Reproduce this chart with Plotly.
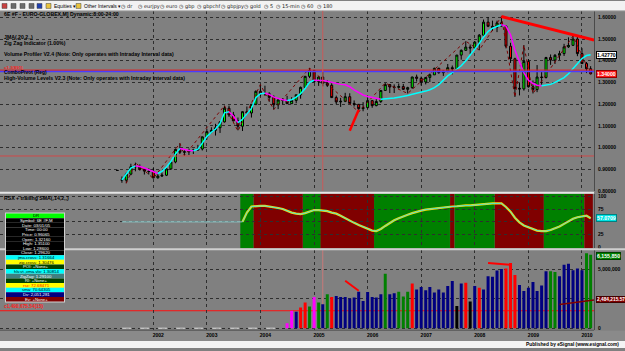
import plotly.graph_objects as go
import pandas as pd

W, H = 625, 351
def px(x): return x / W
def py(y): return 1 - y / H

FONT = "Liberation Sans"

# ---------------- data ----------------
months = [d.strftime("%Y-%m-%d") for d in pd.date_range("2001-05-01", "2010-03-01", freq="MS")]

open_ = [0.894, 0.851, 0.849, 0.877, 0.911, 0.912, 0.900, 0.891,
         0.889, 0.860, 0.868, 0.872, 0.901, 0.933, 0.991, 0.978, 0.980, 0.986, 0.988, 0.993,
         1.049, 1.073, 1.079, 1.091, 1.118, 1.181, 1.150, 1.123, 1.098, 1.165, 1.159, 1.199,
         1.259, 1.247, 1.248, 1.231, 1.197, 1.219, 1.218, 1.202, 1.217, 1.243, 1.277, 1.328,
         1.355, 1.304, 1.325, 1.296, 1.287, 1.230, 1.210, 1.213, 1.234, 1.203, 1.199, 1.179,
         1.184, 1.216, 1.193, 1.212, 1.263, 1.290, 1.279, 1.277, 1.281, 1.268, 1.276, 1.325,
         1.319, 1.302, 1.323, 1.335, 1.365, 1.345, 1.353, 1.368, 1.363, 1.426, 1.448, 1.463,
         1.459, 1.486, 1.518, 1.578, 1.559, 1.554, 1.575, 1.560, 1.467, 1.409, 1.273, 1.270,
         1.397, 1.280, 1.267, 1.325, 1.323, 1.415, 1.403, 1.425, 1.433, 1.464, 1.471, 1.500,
         1.433, 1.387, 1.363]
high = [0.894, 0.866, 0.884, 0.925, 0.930, 0.922, 0.903, 0.904,
        0.905, 0.877, 0.885, 0.904, 0.937, 0.995, 1.019, 0.988, 0.995, 0.994, 1.012, 1.050,
        1.087, 1.093, 1.109, 1.122, 1.193, 1.193, 1.164, 1.138, 1.167, 1.189, 1.200, 1.263,
        1.290, 1.285, 1.255, 1.240, 1.227, 1.228, 1.238, 1.232, 1.244, 1.281, 1.330, 1.366,
        1.358, 1.328, 1.349, 1.311, 1.296, 1.239, 1.229, 1.252, 1.250, 1.217, 1.200, 1.209,
        1.229, 1.218, 1.223, 1.264, 1.297, 1.292, 1.291, 1.295, 1.293, 1.280, 1.326, 1.336,
        1.327, 1.325, 1.341, 1.368, 1.368, 1.354, 1.385, 1.378, 1.427, 1.452, 1.490, 1.475,
        1.490, 1.523, 1.590, 1.602, 1.585, 1.585, 1.604, 1.564, 1.483, 1.414, 1.300, 1.472,
        1.408, 1.309, 1.380, 1.349, 1.418, 1.429, 1.431, 1.446, 1.478, 1.508, 1.514, 1.510,
        1.458, 1.394, 1.375]
low = [0.894, 0.837, 0.835, 0.872, 0.890, 0.893, 0.875, 0.875,
       0.857, 0.856, 0.864, 0.868, 0.898, 0.927, 0.970, 0.962, 0.965, 0.970, 0.985, 0.986,
       1.036, 1.066, 1.055, 1.067, 1.115, 1.141, 1.120, 1.079, 1.076, 1.154, 1.138, 1.195,
       1.236, 1.238, 1.211, 1.175, 1.177, 1.199, 1.201, 1.201, 1.204, 1.225, 1.275, 1.320,
       1.300, 1.284, 1.282, 1.279, 1.229, 1.199, 1.187, 1.209, 1.200, 1.189, 1.164, 1.167,
       1.179, 1.183, 1.190, 1.205, 1.262, 1.251, 1.251, 1.271, 1.265, 1.249, 1.271, 1.304,
       1.286, 1.291, 1.302, 1.335, 1.340, 1.330, 1.347, 1.337, 1.360, 1.405, 1.446, 1.431,
       1.455, 1.449, 1.516, 1.555, 1.537, 1.532, 1.557, 1.457, 1.390, 1.233, 1.240, 1.262,
       1.276, 1.249, 1.255, 1.290, 1.318, 1.381, 1.385, 1.404, 1.422, 1.459, 1.470, 1.421,
       1.386, 1.343, 1.337]
close = [0.894, 0.849, 0.877, 0.911, 0.912, 0.900, 0.891, 0.889,
         0.860, 0.868, 0.872, 0.901, 0.933, 0.991, 0.978, 0.980, 0.986, 0.988, 0.993, 1.049,
         1.073, 1.079, 1.091, 1.118, 1.181, 1.150, 1.123, 1.098, 1.165, 1.159, 1.199, 1.259,
         1.247, 1.248, 1.231, 1.197, 1.219, 1.218, 1.202, 1.217, 1.243, 1.277, 1.328, 1.355,
         1.304, 1.325, 1.296, 1.287, 1.230, 1.210, 1.213, 1.234, 1.203, 1.199, 1.179, 1.184,
         1.216, 1.193, 1.212, 1.263, 1.290, 1.279, 1.277, 1.281, 1.268, 1.276, 1.325, 1.319,
         1.302, 1.323, 1.335, 1.365, 1.345, 1.353, 1.368, 1.363, 1.426, 1.448, 1.463, 1.459,
         1.486, 1.518, 1.578, 1.559, 1.554, 1.575, 1.560, 1.467, 1.409, 1.273, 1.270, 1.397,
         1.280, 1.267, 1.325, 1.323, 1.415, 1.403, 1.425, 1.433, 1.464, 1.471, 1.500, 1.433,
         1.387, 1.363, 1.340]

# JMA (Jun 2001 .. Mar 2010) and its colour state (c = rising cyan, m = falling magenta)
jma_months = months[1:]
jma = [0.850, 0.875, 0.905, 0.915, 0.912, 0.905, 0.898,
       0.888, 0.880, 0.890, 0.910, 0.935, 0.970, 0.995, 0.990, 0.986, 0.985, 0.992, 1.020,
       1.050, 1.070, 1.085, 1.110, 1.160, 1.165, 1.145, 1.115, 1.130, 1.155, 1.180, 1.230,
       1.248, 1.250, 1.245, 1.232, 1.225, 1.220, 1.217, 1.220, 1.232, 1.248, 1.272, 1.300,
       1.310, 1.310, 1.309, 1.305, 1.300, 1.295, 1.291, 1.289, 1.280, 1.266, 1.252, 1.242,
       1.235, 1.230, 1.225, 1.222, 1.223, 1.225, 1.228, 1.232, 1.235, 1.240, 1.245, 1.249,
       1.253, 1.260, 1.266, 1.276, 1.290, 1.310, 1.330, 1.345, 1.360, 1.377, 1.400, 1.425,
       1.450, 1.480, 1.510, 1.535, 1.550, 1.560, 1.566, 1.560, 1.520, 1.450, 1.395, 1.345,
       1.310, 1.295, 1.287, 1.285, 1.288, 1.291, 1.300, 1.310, 1.322, 1.340, 1.362, 1.386,
       1.410, 1.424, 1.428]
jma_dir = ("ccccmmm" + "mmcccccmmmcc" + "ccccccmmcccc" + "ccmmmmmccccc" + "cmmmmmmmmmmm"
           + "mmmmcccccccc" + "cccccccccccc" + "cccccccmmmmm" + "mmmmcccccccc" + "ccc")

zz_dates = ["2001-07-01", "2001-09-01", "2002-01-01", "2002-07-01", "2002-08-01", "2003-05-01",
            "2003-08-01", "2004-01-01", "2004-04-01", "2004-12-01", "2005-11-01", "2006-05-01",
            "2006-10-01", "2007-11-01", "2008-02-01", "2008-07-01", "2008-10-01", "2008-12-01",
            "2009-02-01", "2009-11-01", "2010-03-01"]
zz_vals = [0.835, 0.930, 0.857, 1.019, 0.962, 1.193, 1.076, 1.290, 1.175, 1.366, 1.164, 1.297,
           1.249, 1.490, 1.449, 1.604, 1.233, 1.472, 1.249, 1.514, 1.337]

trend_dates = ["2008-07-01", "2010-03-24"]
trend_vals = [1.604, 1.495]
arrow_dates = ["2005-09-01", "2005-11-01"]
arrow_vals = [1.077, 1.174]

combo_pivot_red = 1.357
combo_pivot_blue = 1.351
cursor_date = "2005-03-01"
cursor_price = 0.96065
cursor_volume = 1.4907          # millions
jma_last_label = 1.4277
close_last_label = 1.3400

# RSX (Sep 2003 .. Mar 2010)
rsx_months = months[28:]
rsx = [50, 68, 80, 81,
       81, 81, 80, 78, 77, 75, 71, 68, 66, 65, 67, 70,
       73, 73, 72.5, 71, 68, 66, 62, 57, 52, 48, 44, 40,
       36, 33, 32, 36, 42, 48, 53, 57, 61, 64, 67, 70,
       72, 74, 75, 76.5, 78, 79, 80, 80, 80.5, 81.5, 82, 82,
       83, 84, 85, 85.5, 86, 86, 86, 79, 70, 58, 49, 43,
       39, 35, 33, 32, 32, 34, 37, 41, 46, 51, 56, 59,
       61, 62, 57]
rsx_flat_dates = ["2001-06-01", "2003-09-01"]
rsx_flat_vals = [50, 50]
rsx_last_label = 57.0709
band_runs = [("2003-09-01", "2003-11-01", "G"), ("2003-12-01", "2004-10-01", "R"),
             ("2004-11-01", "2005-02-01", "G"), ("2005-03-01", "2006-02-01", "R"),
             ("2006-03-01", "2007-07-01", "G"), ("2007-08-01", "2007-08-01", "R"),
             ("2007-09-01", "2008-05-01", "G"), ("2008-06-01", "2009-04-01", "R"),
             ("2009-05-01", "2010-01-01", "G"), ("2010-02-01", "2010-03-01", "R")]

# Volume in millions (Jul 2004 .. Mar 2010)
vol_months = months[38:]
vol = [0.42, 1.49, 1.41, 1.77, 2.19, 1.85,
       2.67, 2.19, 2.05, 2.89, 2.67, 2.75, 2.67, 2.67, 2.53, 2.61, 3.12, 2.33,
       3.09, 2.67, 2.61, 2.89, 4.64, 2.89, 2.98, 3.12, 2.70, 3.12, 3.82, 3.31,
       3.52, 3.23, 3.52, 3.04, 3.31, 3.04, 3.60, 4.02, 1.90, 3.82, 3.88, 2.28,
       3.60, 3.46, 3.31, 4.44, 4.38, 4.92, 5.05, 5.10, 5.56, 4.53, 3.68, 3.18,
       3.46, 3.94, 3.18, 3.65, 4.86, 4.86, 4.80, 4.44, 5.42, 5.50, 4.95, 5.10,
       4.95, 6.40, 6.26]
vol_col = ("mmnrrg" + "mgngrnnnnnnn" + "nnnngnngggrn" + "nnnnnnnnknrk"
           + "nrnnnnnrrrnn" + "nnnnnggnnnnn" + "ngg")
vol_zero_dates = ["2001-06-01", "2004-06-01"]
vol_zero_vals = [0, 0]
vol_arrow_dates = ["2005-08-01", "2005-11-01"]
vol_arrow_vals = [4.05, 3.20]
vol_hook_dates = ["2008-04-01", "2008-09-01", None, "2008-09-01", "2008-09-01"]
vol_hook_vals = [5.56, 5.42, None, 5.56, 5.14]
vol_trend_dates = ["2009-08-01", "2010-03-24"]
vol_trend_vals = [2.02, 2.40]
vol_green_label = 6.155850
vol_red_label = 2.48421557

year_ticks = [f"{y}-01-01" for y in range(2002, 2011)]
year_text = [str(y) for y in range(2002, 2011)]
price_ticks = [0.8, 0.9, 1.0, 1.1, 1.2, 1.3, 1.4, 1.5, 1.6]
price_text = ["0.80000", "0.90000", "1.00000", "1.10000", "1.20000", "1.30000",
              "1.40000", "1.50000", "1.60000"]
rsx_ticks = [0, 25, 50, 75, 100]
rsx_text = ["0", "25", "", "75", "100"]     # the 50 label sits under the value box
vol_ticks = [0, 2.5, 5]
vol_text = ["0", "", "5,000,000"]

# ---------------- figure ----------------
BG = "#808080"
GRID = "#2e2e2e"
X_RANGE = ["1999-02-21", "2010-03-24"]
XD = [0, px(594)]

fig = go.Figure()

fig.add_trace(go.Candlestick(
    x=months, open=open_, high=high, low=low, close=close,
    increasing=dict(line=dict(color="black", width=1), fillcolor="#00ff00"),
    decreasing=dict(line=dict(color="black", width=1), fillcolor="#ff0000"),
    xaxis="x", yaxis="y", showlegend=False, hoverinfo="skip"))

fig.add_trace(go.Scatter(x=zz_dates, y=zz_vals, mode="lines", xaxis="x", yaxis="y",
                         line=dict(color="#7a0000", width=1, dash="dot"), showlegend=False))

JMA_COL = {"c": "#00ffff", "m": "#ff00ff"}
runs = []
for i in range(1, len(jma)):
    c = jma_dir[i]
    if not runs or runs[-1][0] != c:
        runs.append([c, [jma_months[i - 1]], [jma[i - 1]]])
    runs[-1][1].append(jma_months[i])
    runs[-1][2].append(jma[i])
for c, xs, ys in runs:
    fig.add_trace(go.Scatter(x=xs, y=ys, mode="lines", xaxis="x", yaxis="y",
                             line=dict(color=JMA_COL[c], width=1.5), showlegend=False))

fig.add_trace(go.Scatter(x=trend_dates, y=trend_vals, mode="lines", xaxis="x", yaxis="y",
                         line=dict(color="#ff0000", width=3), showlegend=False))
fig.add_trace(go.Scatter(x=arrow_dates, y=arrow_vals, mode="lines", xaxis="x", yaxis="y",
                         line=dict(color="#ff0000", width=2.5), showlegend=False))

# RSX panel
fig.add_trace(go.Scatter(x=rsx_flat_dates, y=rsx_flat_vals, mode="lines", xaxis="x2", yaxis="y2",
                         line=dict(color="#8fd0d0", width=1), showlegend=False))
fig.add_trace(go.Scatter(x=rsx_months, y=rsx, mode="lines", xaxis="x2", yaxis="y2",
                         line=dict(color="#ffd800", width=2.2), showlegend=False))
fig.add_trace(go.Scatter(x=rsx_months, y=rsx, mode="lines", xaxis="x2", yaxis="y2",
                         line=dict(color="#40e8e8", width=0.9), showlegend=False))

# Volume panel
VCOL = {"m": "#ff00ff", "r": "#ff0000", "n": "#000080", "g": "#008000", "k": "#000000"}
fig.add_trace(go.Scatter(x=vol_zero_dates, y=vol_zero_vals, mode="lines", xaxis="x3", yaxis="y3",
                         line=dict(color="#e0e0e0", width=1, dash="dash"), showlegend=False))
fig.add_trace(go.Bar(x=vol_months, y=vol, xaxis="x3", yaxis="y3",
                     marker=dict(color=[VCOL[c] for c in vol_col], line=dict(width=0)),
                     width=20.4 * 86400000, showlegend=False))
fig.add_trace(go.Scatter(x=vol_arrow_dates, y=vol_arrow_vals, mode="lines", xaxis="x3", yaxis="y3",
                         line=dict(color="#ff0000", width=2), showlegend=False))
fig.add_trace(go.Scatter(x=vol_hook_dates, y=vol_hook_vals, mode="lines", xaxis="x3", yaxis="y3",
                         line=dict(color="#ff0000", width=2), showlegend=False, connectgaps=False))
fig.add_trace(go.Scatter(x=vol_trend_dates, y=vol_trend_vals, mode="lines", xaxis="x3", yaxis="y3",
                         line=dict(color="#800000", width=1.5), showlegend=False))

shapes = []
# toolbar / bottom bars / x label strip
shapes.append(dict(type="rect", xref="paper", yref="paper", x0=0, x1=1, y0=py(10), y1=1,
                   fillcolor="#f2f2f2", line=dict(width=0), layer="above"))
shapes.append(dict(type="line", xref="paper", yref="paper", x0=0, x1=1, y0=py(10), y1=py(10),
                   line=dict(color="#9a9a9a", width=1), layer="above"))
shapes.append(dict(type="rect", xref="paper", yref="paper", x0=0, x1=1, y0=0, y1=py(344),
                   fillcolor="#f4f4f4", line=dict(width=0), layer="above"))
shapes.append(dict(type="rect", xref="paper", yref="paper", x0=0, x1=1, y0=py(344), y1=py(333.5),
                   fillcolor="#8a8a8a", line=dict(width=0), layer="below"))
# panel separators
shapes.append(dict(type="line", xref="paper", yref="paper", x0=0, x1=px(594), y0=py(194), y1=py(194),
                   line=dict(color="#e6e6e6", width=2), layer="above"))
shapes.append(dict(type="line", xref="paper", yref="paper", x0=0, x1=1, y0=py(251), y1=py(251),
                   line=dict(color="#cfcfcf", width=2), layer="above"))
shapes.append(dict(type="line", xref="paper", yref="paper", x0=0, x1=px(594), y0=py(333), y1=py(333),
                   line=dict(color="#555555", width=1), layer="above"))
# RSX bands
for s, e, c in band_runs:
    shapes.append(dict(type="rect", xref="x2", yref="y2 domain",
                       x0=pd.Timestamp(s) - pd.Timedelta(days=15), x1=pd.Timestamp(e) + pd.Timedelta(days=15),
                       y0=0, y1=1, fillcolor="#008000" if c == "G" else "#800000",
                       line=dict(width=0), layer="below"))
# horizontal levels in price panel
shapes.append(dict(type="line", xref="x domain", yref="y", x0=0, x1=1, y0=combo_pivot_blue,
                   y1=combo_pivot_blue, line=dict(color="#4a3cff", width=1.6), layer="above"))
shapes.append(dict(type="line", xref="x domain", yref="y", x0=0, x1=1, y0=combo_pivot_red,
                   y1=combo_pivot_red, line=dict(color="#e02020", width=1), layer="above"))
shapes.append(dict(type="line", xref="x domain", yref="y", x0=0, x1=1, y0=cursor_price,
                   y1=cursor_price, line=dict(color="#d04848", width=1), layer="above"))
shapes.append(dict(type="line", xref="x3 domain", yref="y3", x0=0, x1=1, y0=cursor_volume,
                   y1=cursor_volume, line=dict(color="#ff1010", width=1), layer="below"))
# crosshair vertical
shapes.append(dict(type="line", xref="x", yref="y domain", x0=cursor_date, x1=cursor_date,
                   y0=0, y1=1, line=dict(color="#c85a5a", width=1), layer="above"))
shapes.append(dict(type="line", xref="x3", yref="y3 domain", x0=cursor_date, x1=cursor_date,
                   y0=0, y1=1, line=dict(color="#c87878", width=1), layer="below"))

# toolbar icons
for x0, col in [(2, "#c84040"), (11, "#6a6a6a"), (20, "#6a6a6a"), (29, "#6a6a6a"), (37, "#2040b0"),
                (46, "#e8c440"), (76, "#e8c440")]:
    shapes.append(dict(type="rect", xref="paper", yref="paper", x0=px(x0), x1=px(x0 + 5),
                       y0=py(7.5), y1=py(2.5), fillcolor=col, line=dict(color="#404040", width=0.5),
                       layer="above"))

# data window
dw_rows = [("DR", "#00ff00", "#000000"),
           ("Symbol: 6E #F,M", "#000000", "#ffffff"),
           ("Date: 03/01/05", "#000000", "#ffffff"),
           ("Time: 00:00", "#000000", "#ffffff"),
           ("Price: 0.96065", "#000000", "#ffffff"),
           ("Open: 1.32160", "#000000", "#ffffff"),
           ("High: 1.35100", "#000000", "#ffffff"),
           ("Low: 1.28600", "#000000", "#ffffff"),
           ("Close: 1.29620", "#000000", "#ffffff"),
           ("jma.cross: 1.31664", "#00ffff", "#000000"),
           ("zig.cross: 1.30476", "#ffff00", "#000000"),
           ("POI: +None+", "#004000", "#ffffff"),
           ("hlv.vt.,vma.vlo: 1.30814", "#00ffff", "#000000"),
           ("ZigZag: 1.29100", "#408080", "#ffffff"),
           ("RI: +None+", "#004000", "#ffffff"),
           ("rsx: 72.68471", "#ffff00", "#ff0000"),
           ("sma: 70.64305", "#00ffff", "#000000"),
           ("Dv: 2,051,281", "#000080", "#ffffff"),
           ("Ev: +None+", "#800000", "#ffffff")]
DW_X0, DW_X1, DW_Y0, DW_Y1 = 6, 64, 215, 304
rh = (DW_Y1 - DW_Y0) / len(dw_rows)
shapes.append(dict(type="rect", xref="paper", yref="paper", x0=px(DW_X0 - 1), x1=px(DW_X1 + 1),
                   y0=py(DW_Y1 + 1), y1=py(DW_Y0 - 1), fillcolor="#d0d0d0",
                   line=dict(width=0), layer="above"))
annotations = []
for i, (txt, bg, fg) in enumerate(dw_rows):
    yt = DW_Y0 + i * rh
    shapes.append(dict(type="rect", xref="paper", yref="paper", x0=px(DW_X0), x1=px(DW_X1),
                       y0=py(yt + rh), y1=py(yt), fillcolor=bg, line=dict(width=0), layer="above"))
    annotations.append(dict(xref="paper", yref="paper", x=px(36), y=py(yt + rh / 2), text=txt,
                            showarrow=False, xanchor="center", yanchor="middle",
                            font=dict(family=FONT, size=4.3, color=fg)))


def ann(x, y, text, size=5.2, color="#000000", xanchor="left", bold=True, yref="paper", **kw):
    d = dict(xref="paper", yref=yref, x=px(x), y=(py(y) if yref == "paper" else y), text=text,
             showarrow=False, xanchor=xanchor, yanchor="middle",
             font=dict(family=FONT, size=size, color=color, weight=700 if bold else 400))
    d.update(kw)
    annotations.append(d)


# titles / study labels
ann(2, 12.7, "6E #F - EURO-GLOBEX,M] Dynamic:8:00-24:00")
ann(2, 36, "JMA(,20,2,,)")
ann(2, 42.7, "Zig Zag Indicator (1.00%)")
ann(2, 54, "Volume Profiler V2.4 (Note: Only operates with Intraday Interval data)")
ann(2, 67.6, "c1.3(891)", color="#ff2020", size=4.4)
ann(2, 72.6, "ComboPivot (Reg)", size=4.9)
ann(2, 78.3, "High-Volume Levels V2.3 (Note: Only operates with Intraday Interval data)")
ann(2, 199.5, "RSX + trailing SMA(,14,2,,)")
ann(2, 309.5, "c1,490,675.54(15)", color="#ff2020", size=4.8)

# right-axis value boxes
ann(596, jma_last_label, "1.42770", yref="y", bgcolor="#ffffff", bordercolor="#000000",
    borderwidth=1, borderpad=0)
ann(596, close_last_label, "1.34000", color="#ffffff", yref="y", bgcolor="#ff1a1a",
    bordercolor="#900000", borderwidth=1, borderpad=0)
ann(596, rsx_last_label, "57.0709", color="#ffffff", yref="y2", bgcolor="#00e4e4",
    bordercolor="#008080", borderwidth=1, borderpad=0)
ann(596, vol_green_label, "6,155,850", color="#ffffff", yref="y3", bgcolor="#008000",
    bordercolor="#004000", borderwidth=1, borderpad=0)
ann(596, vol_red_label, "2,484,215.57", color="#ffffff", yref="y3", bgcolor="#800000",
    bordercolor="#400000", borderwidth=1, borderpad=0, size=4.8)

# toolbar text
ann(52, 5.2, "Equities \u25be", size=5, bold=False)
ann(82, 5.2, "Other Intervals \u25be", size=5, bold=False)
for x, name in [(119, "dr"), (136, "eurjpy"), (158, "euro"), (177, "gbp"), (195, "gbpchf"),
                (219, "gbpjpy"), (242, "gold"), (262, "5"), (274, "15-min"), (299, "60"), (315, "180")]:
    annotations.append(dict(xref="paper", yref="paper", x=px(x), y=py(5.2),
                            text="\u25f7 " + name, showarrow=False, xanchor="left", yanchor="middle",
                            font=dict(family="DejaVu Sans", size=5, color="#202020")))
ann(621, 347.5, "Published by eSignal (www.esignal.com)", size=4.8, xanchor="right")

AX_FONT = dict(family=FONT, size=5.0, color="#000000", weight=700)
xcommon = dict(type="date", range=X_RANGE, showgrid=True, gridcolor=GRID, griddash="dot",
               gridwidth=1, tickvals=year_ticks, ticktext=year_text, zeroline=False,
               showline=False, ticks="")

fig.update_layout(
    width=W, height=H, margin=dict(l=0, r=0, t=0, b=0), autosize=False,
    paper_bgcolor=BG, plot_bgcolor=BG, showlegend=False, barmode="overlay",
    font=dict(family=FONT), hovermode=False,
    xaxis=dict(domain=XD, anchor="y", showticklabels=False, rangeslider=dict(visible=False), **xcommon),
    xaxis2=dict(domain=XD, anchor="y2", showticklabels=False, matches="x", **xcommon),
    xaxis3=dict(domain=XD, anchor="y3", showticklabels=True, matches="x", tickfont=AX_FONT,
                ticklabelshift=5, ticklabelstandoff=1, **xcommon),
    yaxis=dict(domain=[py(192), py(10)], anchor="x", side="right", range=[0.80, 1.630],
               tickvals=price_ticks, ticktext=price_text, tickfont=AX_FONT, showgrid=True,
               gridcolor=GRID, griddash="dot", zeroline=False, showline=True,
               linecolor="#4a4a4a", ticks="", ticklabelstandoff=2),
    yaxis2=dict(domain=[py(250), py(195)], anchor="x2", side="right", range=[-1.35, 104.8],
                tickvals=rsx_ticks, ticktext=rsx_text,
                tickfont=AX_FONT, showgrid=True, gridcolor=GRID, griddash="dot", zeroline=False,
                showline=True, linecolor="#4a4a4a", ticks="", ticklabelstandoff=2),
    yaxis3=dict(domain=[py(333), py(252)], anchor="x3", side="right", range=[-0.17, 6.66],
                tickvals=vol_ticks, ticktext=vol_text, tickfont=AX_FONT,
                showgrid=True, gridcolor=GRID, griddash="dot", zeroline=False, showline=True,
                linecolor="#4a4a4a", ticks="", ticklabelstandoff=2),
    shapes=shapes, annotations=annotations,
)

fig.write_html("out.html", config={"displayModeBar": False})
